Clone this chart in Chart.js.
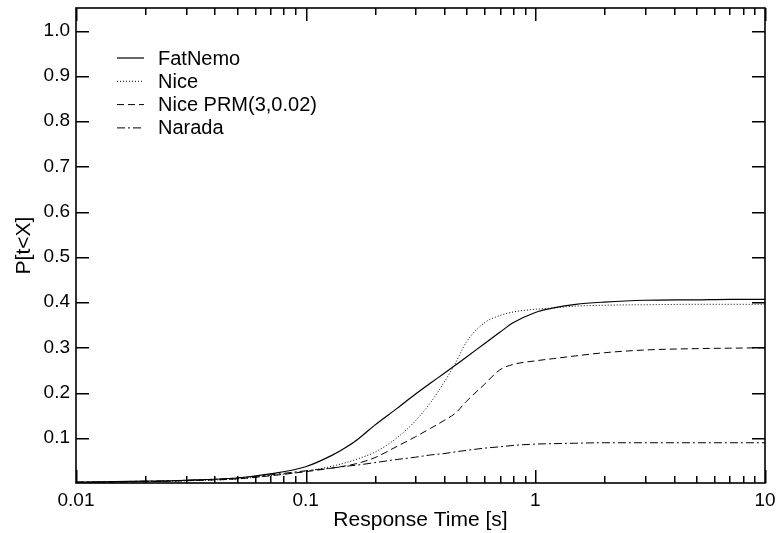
<!DOCTYPE html>
<html lang="en">
<head>
<meta charset="UTF-8">
<title>P[t&lt;X]</title>
<script src="https://cdn.jsdelivr.net/npm/chart.js"></script>
<style>
  html, body { margin: 0; padding: 0; background: #fff; }
  #wrap { width: 777px; height: 533px; }
</style>
</head>
<body>
<div id="wrap"><canvas id="myChart" width="777" height="533"></canvas></div>
<script>
// response times (s) where the curves were read
const xValues = [0.01, 0.02, 0.03, 0.05, 0.07, 0.1, 0.13, 0.15, 0.17, 0.2, 0.25, 0.3, 0.35, 0.4,
                 0.45, 0.5, 0.6, 0.7, 0.8, 1, 1.2, 1.5, 2, 3, 5, 7, 10];

const fatNemo = [0.002, 0.004, 0.006, 0.011, 0.020, 0.036, 0.061, 0.079, 0.098, 0.128, 0.165, 0.196, 0.221, 0.242,
                 0.261, 0.278, 0.308, 0.333, 0.354, 0.377, 0.387, 0.395, 0.400, 0.404, 0.405, 0.406, 0.406];
const nice    = [0.001, 0.003, 0.005, 0.009, 0.016, 0.026, 0.037, 0.045, 0.054, 0.068, 0.100, 0.137, 0.178, 0.222,
                 0.266, 0.311, 0.354, 0.370, 0.378, 0.384, 0.387, 0.391, 0.393, 0.394, 0.395, 0.395, 0.395];
const nicePrm = [0.001, 0.003, 0.005, 0.009, 0.016, 0.025, 0.033, 0.038, 0.044, 0.056, 0.081, 0.102, 0.121, 0.138,
                 0.155, 0.180, 0.218, 0.250, 0.262, 0.270, 0.275, 0.281, 0.288, 0.294, 0.297, 0.298, 0.299];
const narada  = [0.002, 0.004, 0.006, 0.011, 0.018, 0.027, 0.033, 0.037, 0.040, 0.045, 0.052, 0.057, 0.062, 0.065,
                 0.069, 0.072, 0.077, 0.080, 0.083, 0.086, 0.087, 0.088, 0.089, 0.089, 0.089, 0.089, 0.089];

const seriesNames = ['FatNemo', 'Nice', 'Nice PRM(3,0.02)', 'Narada'];
const yTickValues = [0.1, 0.2, 0.3, 0.4, 0.5, 0.6, 0.7, 0.8, 0.9, 1.0];
const xTickLabels = ['0.01', '0.1', '1', '10'];

const FONT = 'Liberation Sans, Arial, Helvetica, sans-serif';

function pts(arr) {
  return xValues.map((x, i) => ({ x: x, y: arr[i] }));
}

function isDecade(v) {
  const l = Math.log10(v);
  return Math.abs(l - Math.round(l)) < 1e-6;
}

// 1..9 steps inside every decade of the x axis
function xTickValues() {
  const out = [];
  const dec = xTickLabels.map(Number);
  for (let i = 0; i < dec.length - 1; i++) {
    for (let m = 1; m < 10; m++) out.push(dec[i] * m);
  }
  out.push(dec[dec.length - 1]);
  return out;
}

// frame plus ticks on all four sides, pointing inwards
const frameTicks = {
  id: 'frameTicks',
  afterDraw(chart) {
    const c = chart.ctx, a = chart.chartArea;
    const xs = chart.scales.x, ys = chart.scales.y;
    const L = a.left, R = a.right, T = a.top, B = a.bottom;
    c.save();
    c.fillStyle = '#000';
    xTickValues().forEach(v => {
      const px = Math.round(xs.getPixelForValue(v));
      const len = isDecade(v) ? 13 : 7;
      c.fillRect(px, B - len, 1.5, len);
      c.fillRect(px, T, 1.5, len);
    });
    yTickValues.forEach(v => {
      const py = Math.round(ys.getPixelForValue(v));
      c.fillRect(L, py, 13, 1.5);
      c.fillRect(R - 13, py, 13, 1.5);
    });
    c.strokeStyle = '#000';
    c.setLineDash([]);
    c.lineWidth = 1.6;
    c.strokeRect(L, T, R - L, B - T);

    // legend inside the plot, top left
    c.font = '20px ' + FONT;
    c.textBaseline = 'middle';
    chart.data.datasets.forEach((ds, i) => {
      const y = T + 50 + i * 23.3;
      c.beginPath();
      c.setLineDash(ds.borderDash || []);
      c.lineWidth = ds.borderWidth;
      c.strokeStyle = ds.borderColor;
      c.moveTo(L + 41, y);
      c.lineTo(L + 68, y);
      c.stroke();
      c.setLineDash([]);
      c.fillText(ds.label, L + 82, y + 1);
    });
    c.restore();
  }
};

const seriesData = [fatNemo, nice, nicePrm, narada];
const dashes = [[], [1, 2], [7, 4], [8, 3, 2, 3]];

const datasets = seriesNames.map((name, i) => ({
  label: name,
  data: pts(seriesData[i]),
  borderColor: '#000',
  borderWidth: i === 0 ? 1.2 : 1,
  borderDash: dashes[i],
  pointRadius: 0,
  fill: false,
  cubicInterpolationMode: 'monotone'
}));

new Chart(document.getElementById('myChart'), {
  type: 'line',
  data: { datasets: datasets },
  options: {
    responsive: false,
    animation: false,
    devicePixelRatio: 1,
    layout: { padding: { top: 8, right: 12, left: 0, bottom: 0 } },
    plugins: {
      legend: { display: false },
      tooltip: { enabled: false }
    },
    scales: {
      x: {
        type: 'logarithmic',
        min: 0.01,
        max: 10,
        grid: { display: false, drawTicks: false },
        border: { display: false },
        afterFit(scale) {
          scale.height = 50;
          scale.paddingLeft = 0;
          scale.paddingRight = 0;
        },
        ticks: {
          autoSkip: false,
          maxRotation: 0,
          padding: 6,
          color: '#000',
          font: { family: FONT, size: 19 },
          callback(v) {
            if (!isDecade(v)) return '';
            const lbl = String(+Number(v).toPrecision(3));
            return xTickLabels.includes(lbl) ? lbl : '';
          }
        },
        title: {
          display: true,
          text: 'Response Time [s]',
          color: '#000',
          font: { family: FONT, size: 21 },
          padding: { top: 0, bottom: 0 }
        }
      },
      y: {
        min: 0,
        max: 1.05,
        grid: { display: false, drawTicks: false },
        border: { display: false },
        afterFit(scale) {
          scale.width = 76;
          scale.paddingTop = 0;
          scale.paddingBottom = 0;
        },
        afterBuildTicks(scale) {
          scale.ticks = yTickValues.map(v => ({ value: v }));
        },
        ticks: {
          padding: 6,
          color: '#000',
          font: { family: FONT, size: 19 },
          callback(v) { return Number(v).toFixed(1); }
        },
        title: {
          display: true,
          text: 'P[t<X]',
          color: '#000',
          font: { family: FONT, size: 21 },
          padding: { top: 12, bottom: 0 }
        }
      }
    }
  },
  plugins: [frameTicks]
});
</script>
</body>
</html>
